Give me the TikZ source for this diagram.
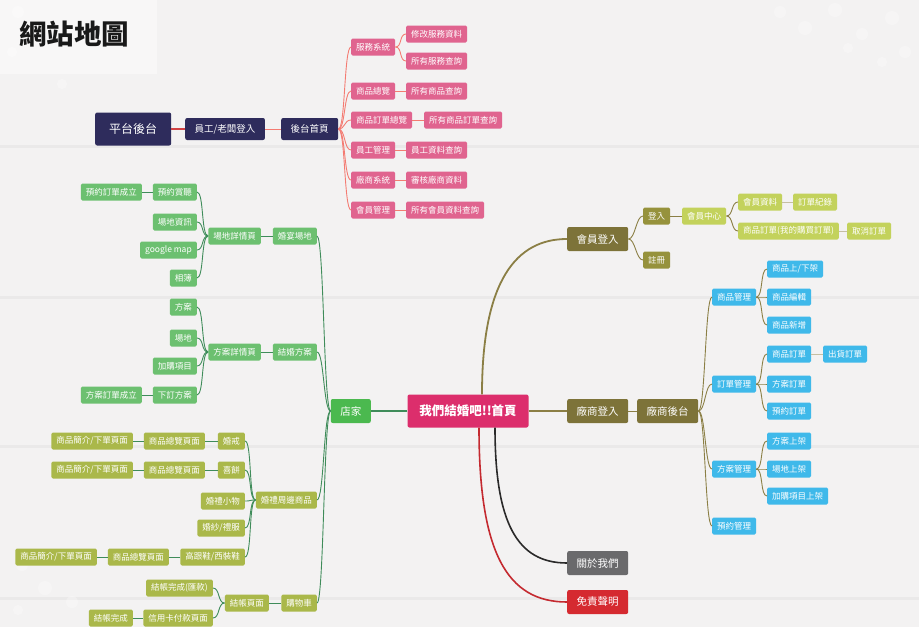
\documentclass[tikz,border=0pt]{standalone}
\usepackage{fontspec}
\newfontfamily\cjk{Noto Sans CJK TC}
\definecolor{bgc}{HTML}{F3F2F2}
\definecolor{bandc}{HTML}{EAE9E9}
\definecolor{navyc}{HTML}{2E2C5C}
\definecolor{pinkc}{HTML}{E0648F}
\definecolor{salmonc}{HTML}{F47B72}
\definecolor{shopc}{HTML}{4BB94F}
\definecolor{greenc}{HTML}{6CC070}
\definecolor{gconn}{HTML}{3F8C5A}
\definecolor{limec}{HTML}{AAB84A}
\definecolor{centerc}{HTML}{DC2E6C}
\definecolor{olivec}{HTML}{7D7339}
\definecolor{oconn}{HTML}{8B7F45}
\definecolor{olmid}{HTML}{96923C}
\definecolor{lime2}{HTML}{C3D25C}
\definecolor{bluec}{HTML}{3FB9EA}
\definecolor{grayc}{HTML}{6A6A6C}
\definecolor{redc}{HTML}{D52A30}
\definecolor{blackc}{HTML}{2A2A2A}
\definecolor{redconn}{HTML}{C42A30}
\tikzset{
  box/.style={rounded corners=1.5pt, text=white, inner sep=0pt, inner xsep=5pt, minimum height=17pt, font=\cjk\fontsize{8.5}{8.5}\selectfont},
  pk/.style={box, fill=pinkc},
  gn/.style={box, fill=greenc},
  lb/.style={box, fill=limec},
  lm/.style={box, fill=lime2},
  om/.style={box, fill=olmid},
  bl/.style={box, fill=bluec},
  midbox/.style={rounded corners=2pt, text=white, inner sep=0pt, inner xsep=9.5pt, minimum height=24pt, font=\cjk\fontsize{10.5}{10.5}\selectfont},
  navbox/.style={rounded corners=2pt, fill=navyc, text=white, inner sep=0pt, inner xsep=9.5pt, minimum height=22pt, font=\cjk\fontsize{9.5}{9.5}\selectfont},
  pconn/.style={draw=salmonc, line width=0.9pt},
  gcn/.style={draw=gconn, line width=0.9pt},
  ocn/.style={draw=oconn, line width=0.9pt},
  flower/.style={fill=white, opacity=0.3},
}
\newcommand\rcon[3][]{\draw[#1] (#2.east) .. controls +(7,0) and +(-7,0) .. (#3.west);}
\newcommand\lcon[3][]{\draw[#1] (#2.west) .. controls +(-7,0) and +(7,0) .. (#3.east);}
\begin{document}
\begin{tikzpicture}[x=1pt,y=-1pt]
\useasboundingbox (0,0) rectangle (919,627);
\fill[bgc] (0,0) rectangle (919,627);
\foreach \yy in {145,296,445,597} {\fill[bandc] (0,\yy) rectangle (919,\yy+3);}
% faint flowers
\foreach \fx/\fy/\fr in {780/12/6,805/28/7,835/10/7,862/34/6,892/18/7,905/52/6,882/62/5,848/48/5,
  18/12/6,42/28/7,12/52/5,62/84/5,
  22/565/6,45/588/7,18/610/5,72/602/6}
  {\fill[flower] (\fx,\fy) circle (\fr);}
% title
\fill[white, opacity=0.45] (0,0) rectangle (157,74);
\node[font=\cjk\bfseries\fontsize{27.5}{27.5}\selectfont, text=black!90, anchor=west, inner sep=0pt] (title) at (19,34) {網站地圖};

% backend
\node[navbox, font=\cjk\fontsize{12}{12}\selectfont, minimum height=33pt, inner xsep=14pt, anchor=west] (pt) at (95,129) {平台後台};
\node[navbox, anchor=west] (bk1) at (185,129) {員工/老闆登入};
\node[navbox, anchor=west] (bk2) at (281,129) {後台首頁};
\draw[draw=redconn!70!salmonc, line width=2pt] (pt.east) -- (bk1.west);
\draw[pconn] (bk1.east) -- (bk2.west);

\node[pk, anchor=west] (ps1) at (351,47) {服務系統};
\node[pk, anchor=west] (ps11) at (406,34) {修改服務資料};
\node[pk, anchor=west] (ps12) at (406,61) {所有服務查詢};
\node[pk, anchor=west] (ps2) at (351,91) {商品總覽};
\node[pk, anchor=west] (ps21) at (406,91) {所有商品查詢};
\node[pk, anchor=west] (ps3) at (351,120) {商品訂單總覽};
\node[pk, anchor=west] (ps31) at (424,120) {所有商品訂單查詢};
\node[pk, anchor=west] (ps4) at (351,150) {員工管理};
\node[pk, anchor=west] (ps41) at (406,150) {員工資料查詢};
\node[pk, anchor=west] (ps5) at (351,180) {廠商系統};
\node[pk, anchor=west] (ps51) at (406,180) {審核廠商資料};
\node[pk, anchor=west] (ps6) at (351,210) {會員管理};
\node[pk, anchor=west] (ps61) at (406,210) {所有會員資料查詢};
\foreach \t in {ps1,ps2,ps3,ps4,ps5,ps6} {\rcon[pconn]{bk2}{\t}}
\rcon[pconn]{ps1}{ps11}
\rcon[pconn]{ps1}{ps12}
\draw[pconn] (ps2) -- (ps21);
\draw[pconn] (ps3) -- (ps31);
\draw[pconn] (ps4) -- (ps41);
\draw[pconn] (ps5) -- (ps51);
\draw[pconn] (ps6) -- (ps61);

% center
\node[rounded corners=2pt, fill=centerc, text=white, inner sep=0pt, minimum width=121pt, minimum height=33pt, font=\cjk\bfseries\fontsize{12.5}{12.5}\selectfont] (c) at (468,411) {我們結婚吧!!首頁};

% right side
\node[midbox, fill=olivec, anchor=west] (vl) at (567,411) {廠商登入};
\node[midbox, fill=olivec, anchor=west] (vb) at (637,411) {廠商後台};
\node[midbox, fill=olivec, anchor=west] (ml) at (567,239) {會員登入};
\node[midbox, fill=grayc, anchor=west] (ab) at (567,563) {關於我們};
\node[midbox, fill=redc, anchor=west] (dc) at (567,602) {免責聲明};
\draw[draw=oconn, line width=1.8pt] (c.east) -- (vl.west);
\draw[ocn] (vl.east) -- (vb.west);
\draw[draw=oconn, line width=1.8pt] ([xshift=14pt]c.north) .. controls +(0,-115) and +(-50,0) .. (ml.west);
\draw[draw=blackc, line width=1.6pt] ([xshift=27pt]c.south) .. controls +(0,95) and +(-50,0) .. (ab.west);
\draw[draw=redconn, line width=1.6pt] ([xshift=11pt]c.south) .. controls +(0,125) and +(-60,0) .. (dc.west);

\node[om, anchor=west] (login) at (643,216) {登入};
\node[om, anchor=west] (reg) at (643,260) {註冊};
\node[lm, anchor=west] (mc) at (682,216) {會員中心};
\node[lm, anchor=west] (md) at (738,202) {會員資料};
\node[lm, anchor=west] (ol) at (793,202) {訂單紀錄};
\node[lm, anchor=west] (mo) at (738,231) {商品訂單(我的購買訂單)};
\node[lm, anchor=west] (co) at (847,231) {取消訂單};
\rcon[ocn]{ml}{login}
\rcon[ocn]{ml}{reg}
\draw[ocn] (login) -- (mc);
\rcon[ocn]{mc}{md}
\rcon[ocn]{mc}{mo}
\draw[draw=oconn!50, line width=0.9pt] (md) -- (ol);
\draw[draw=oconn!50, line width=0.9pt] (mo) -- (co);

\node[bl, anchor=west] (b1) at (712,297) {商品管理};
\node[bl, anchor=west] (b11) at (767,269) {商品上/下架};
\node[bl, anchor=west] (b12) at (767,297) {商品編輯};
\node[bl, anchor=west] (b13) at (767,325) {商品新增};
\node[bl, anchor=west] (b2) at (712,384) {訂單管理};
\node[bl, anchor=west] (b21) at (767,354) {商品訂單};
\node[bl, anchor=west] (b211) at (823,354) {出貨訂單};
\node[bl, anchor=west] (b22) at (767,384) {方案訂單};
\node[bl, anchor=west] (b23) at (767,411) {預約訂單};
\node[bl, anchor=west] (b3) at (712,469) {方案管理};
\node[bl, anchor=west] (b31) at (767,441) {方案上架};
\node[bl, anchor=west] (b32) at (767,469) {場地上架};
\node[bl, anchor=west] (b33) at (767,496) {加購項目上架};
\node[bl, anchor=west] (b4) at (712,526) {預約管理};
\foreach \t in {b1,b2,b3,b4} {\rcon[ocn]{vb}{\t}}
\foreach \t in {b11,b12,b13} {\rcon[ocn]{b1}{\t}}
\foreach \t in {b21,b22,b23} {\rcon[ocn]{b2}{\t}}
\foreach \t in {b31,b32,b33} {\rcon[ocn]{b3}{\t}}
\draw[draw=oconn!50, line width=0.9pt] (b21) -- (b211);

% left side
\node[midbox, fill=shopc, anchor=east] (sj) at (371,411) {店家};
\draw[draw=gconn, line width=1.8pt] (c.west) -- (sj.east);

\node[gn, anchor=east] (g1) at (317,236) {婚宴場地};
\node[gn, anchor=east] (g11) at (261,236) {場地詳情頁};
\node[gn, anchor=east] (g111) at (197,192) {預約賞聽};
\node[gn, anchor=east] (g1111) at (142,192) {預約訂單成立};
\node[gn, anchor=east] (g112) at (197,222) {場地資訊};
\node[gn, anchor=east] (g113) at (197,250) {google map};
\node[gn, anchor=east] (g114) at (197,278) {相簿};
\node[gn, anchor=east] (g2) at (317,352) {結婚方案};
\node[gn, anchor=east] (g21) at (261,352) {方案詳情頁};
\node[gn, anchor=east] (g211) at (197,307) {方案};
\node[gn, anchor=east] (g212) at (197,338) {場地};
\node[gn, anchor=east] (g213) at (197,366) {加購項目};
\node[gn, anchor=east] (g214) at (197,395) {下訂方案};
\node[gn, anchor=east] (g2141) at (142,395) {方案訂單成立};

\node[lb, anchor=east] (o1) at (317,500) {婚禮周邊商品};
\node[lb, anchor=east] (o11) at (245,441) {婚戒};
\node[lb, anchor=east] (o111) at (205,441) {商品總覽頁面};
\node[lb, anchor=east] (o1111) at (133,441) {商品簡介/下單頁面};
\node[lb, anchor=east] (o12) at (245,470) {喜餅};
\node[lb, anchor=east] (o121) at (205,470) {商品總覽頁面};
\node[lb, anchor=east] (o1211) at (133,470) {商品簡介/下單頁面};
\node[lb, anchor=east] (o13) at (245,501) {婚禮小物};
\node[lb, anchor=east] (o14) at (245,528) {婚紗/禮服};
\node[lb, anchor=east] (o15) at (245,557) {高跟鞋/西裝鞋};
\node[lb, anchor=east] (o151) at (169,557) {商品總覽頁面};
\node[lb, anchor=east] (o1511) at (97,557) {商品簡介/下單頁面};
\node[lb, anchor=east] (o2) at (317,603) {購物車};
\node[lb, anchor=east] (o21) at (269,603) {結帳頁面};
\node[lb, anchor=east] (o211) at (213,588) {結帳完成(匯款)};
\node[lb, anchor=east] (o212) at (213,618) {信用卡付款頁面};
\node[lb, anchor=east] (o2121) at (133,618) {結帳完成};

\foreach \t in {g1,g2,o1,o2} {\lcon[gcn]{sj}{\t}}
\draw[gcn] (g1) -- (g11);
\foreach \t in {g111,g112,g113,g114} {\lcon[gcn]{g11}{\t}}
\draw[gcn] (g111) -- (g1111);
\draw[gcn] (g2) -- (g21);
\foreach \t in {g211,g212,g213,g214} {\lcon[gcn]{g21}{\t}}
\draw[gcn] (g214) -- (g2141);
\foreach \t in {o11,o12,o13,o14,o15} {\lcon[gcn]{o1}{\t}}
\draw[gcn] (o11) -- (o111);
\draw[gcn] (o111) -- (o1111);
\draw[gcn] (o12) -- (o121);
\draw[gcn] (o121) -- (o1211);
\draw[gcn] (o15) -- (o151);
\draw[gcn] (o151) -- (o1511);
\draw[gcn] (o2) -- (o21);
\lcon[gcn]{o21}{o211}
\lcon[gcn]{o21}{o212}
\draw[gcn] (o212) -- (o2121);
\end{tikzpicture}
\end{document}
